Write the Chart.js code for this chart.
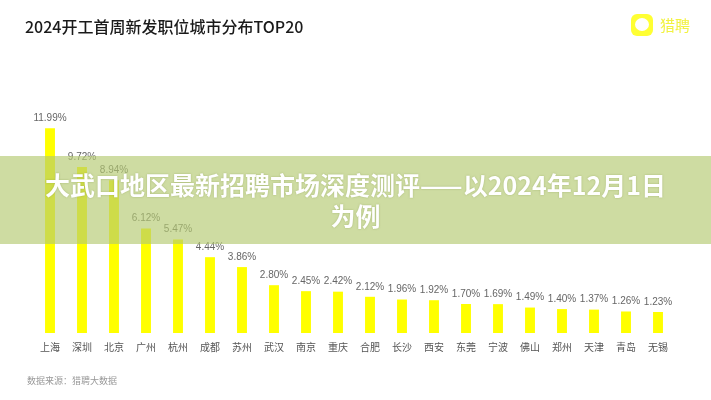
<!DOCTYPE html>
<html>
<head>
<meta charset="utf-8">
<script src="https://cdn.jsdelivr.net/npm/chart.js@4.4.1/dist/chart.umd.min.js"></script>
<style>
  html, body { margin: 0; padding: 0; background: #fff; }
  #wrap { position: relative; width: 711px; height: 400px; overflow: hidden; font-family: "Noto Sans CJK SC", "Noto Sans", sans-serif; }
  #cv { position: absolute; left: 0; top: 0; }
  #title { position: absolute; left: 25px; top: 14px; font-size: 16px; font-weight: 500; color: #1a1a1a; white-space: nowrap; }
  #logo { position: absolute; left: 631px; top: 14px; width: 22px; height: 22px; border-radius: 6px; background: #ffff33; }
  #logo::after { content: ""; position: absolute; left: 4px; top: 4px; width: 14px; height: 13px; border-radius: 50%; background: #fff; }
  #logotxt { position: absolute; left: 660px; top: 14px; font-size: 15px; color: #f2f240; }
  #source { position: absolute; left: 27px; top: 374px; font-size: 9px; color: #999; }
  #banner { position: absolute; left: 0; top: 156px; width: 711px; height: 88px; background: rgba(180, 202, 112, 0.65); }
  #banner div { text-align: center; color: #fff; font-weight: bold; font-size: 25px; line-height: 31px; padding-top: 13px; text-shadow: 0 0 2px rgba(120,140,60,0.5); }
</style>
</head>
<body>
<div id="wrap">
  <canvas id="cv" width="711" height="400"></canvas>
  <div id="title">2024开工首周新发职位城市分布TOP20</div>
  <div id="logo"></div>
  <div id="logotxt">猎聘</div>
  <div id="source">数据来源：猎聘大数据</div>
  <div id="banner"><div>大武口地区最新招聘市场深度测评——以2024年12月1日<br>为例</div></div>
</div>
<script>
var cities = ['上海', '深圳', '北京', '广州', '杭州', '成都', '苏州', '武汉', '南京', '重庆',
    '合肥', '长沙', '西安', '东莞', '宁波', '佛山', '郑州', '天津', '青岛', '无锡'];
var shares = [11.99, 9.72, 8.94, 6.12, 5.47, 4.44, 3.86, 2.80, 2.45, 2.42,
    2.12, 1.96, 1.92, 1.70, 1.69, 1.49, 1.40, 1.37, 1.26, 1.23];

// draws the "x.xx%" text above each bar
var valueLabels = {
    id: 'valueLabels',
    afterDatasetsDraw: function(chart) {
        var ctx = chart.ctx;
        var meta = chart.getDatasetMeta(0);
        ctx.save();
        ctx.font = '10px "Liberation Sans", Arial, sans-serif';
        ctx.fillStyle = '#666';
        ctx.textAlign = 'center';
        ctx.textBaseline = 'bottom';
        meta.data.forEach(function(bar, i) {
            ctx.fillText(shares[i].toFixed(2) + '%', bar.x, bar.y - 5);
        });
        ctx.restore();
    }
};

var ctx = document.getElementById('cv').getContext('2d');
new Chart(ctx, {
    type: 'bar',
    data: {
        labels: cities,
        datasets: [{
            data: shares,
            backgroundColor: '#ffff00',
            barPercentage: 0.31,
            categoryPercentage: 1
        }]
    },
    options: {
        responsive: false,
        animation: false,
        layout: { padding: { left: 34, right: 37, top: 111, bottom: 47 } },
        plugins: { legend: { display: false }, tooltip: { enabled: false } },
        scales: {
            x: {
                grid: { display: false },
                border: { display: false },
                ticks: {
                    color: '#555',
                    padding: 0,
                    autoSkip: false,
                    maxRotation: 0,
                    font: { size: 10, family: '"Noto Sans CJK SC", sans-serif' }
                }
            },
            y: { display: false, min: 0, max: 13 }
        }
    },
    plugins: [valueLabels]
});
</script>
</body>
</html>
